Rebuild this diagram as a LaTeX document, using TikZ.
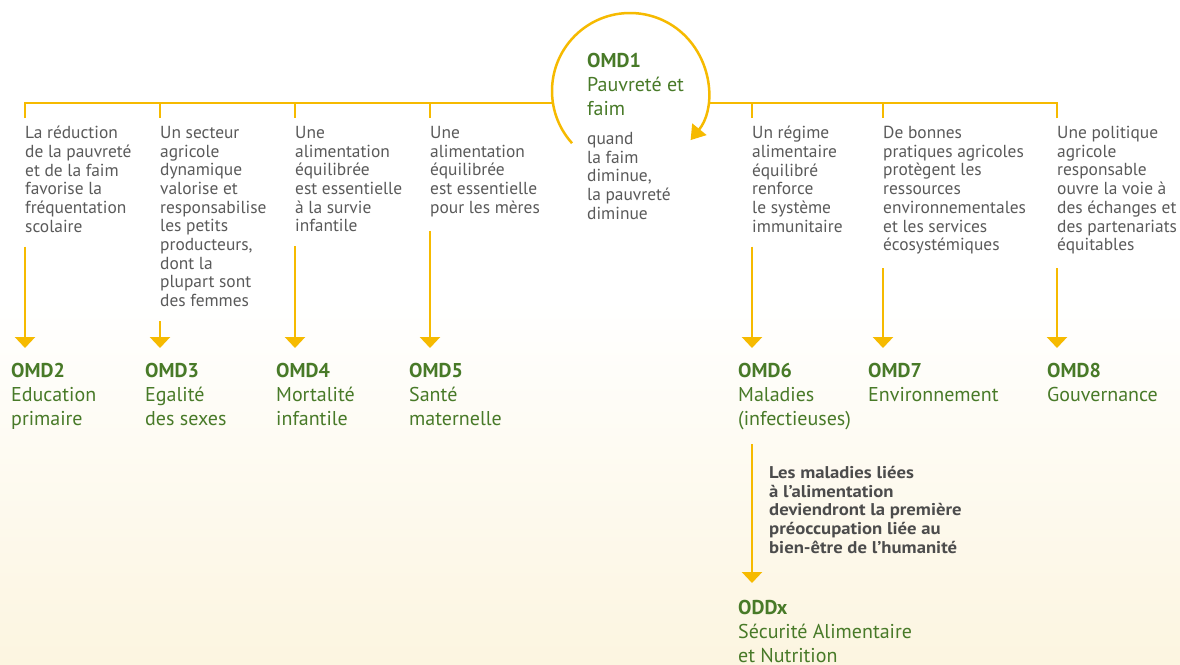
\documentclass[tikz,border=0pt]{standalone}
\usepackage{fontspec}
\setmainfont{PT Sans}
\newfontfamily\notefont{PT Sans}[FakeStretch=1.1]
\usetikzlibrary{arrows.meta}
\definecolor{omdgreen}{RGB}{72,122,40}
\definecolor{omdyellow}{RGB}{246,186,0}
\definecolor{omdgray}{RGB}{90,90,90}
\definecolor{omdcream}{RGB}{252,245,224}
\begin{document}
\begin{tikzpicture}[x=1pt,y=1pt,
		link text/.style = {anchor=north west, inner sep=0pt, align=left, text=omdgray, font=\fontsize{17.4}{18.7}\selectfont},
		omd label/.style = {anchor=north west, inner sep=0pt, align=left, text=omdgreen, font=\fontsize{20}{24}\selectfont},
		bar/.style = {draw=omdyellow, line width=2.5pt},
		goal arrow/.style = {bar, -{Triangle[width=20pt,length=11pt]}, shorten >=15pt}]
		
		\useasboundingbox (0,0) rectangle (1180,-664);
		\fill[white] (0,0) rectangle (1180,-300);
		\shade[top color=white, bottom color=omdcream] (0,-300) rectangle (1180,-664);
		
		% OMD1 au centre
		\node[circle, minimum size=156pt, inner sep=0pt, outer sep=0pt] (ring) at (630,-91) {};
		\node[omd label] (l1) at (587,-53) {\textbf{OMD1}\\Pauvreté et\\faim};
		\node[link text] (t1) at (587,-132) {quand\\la faim\\diminue,\\la pauvreté\\diminue};
		\draw[bar, -{Triangle[width=18pt,length=14pt]}] (ring.222) arc[start angle=222, end angle=-39, radius=78];
		
		% barre horizontale
		\coordinate (b2) at (25,-103);
		\coordinate (b3) at (160,-103);
		\coordinate (b4) at (295,-103);
		\coordinate (b5) at (430,-103);
		\coordinate (b6) at (752,-103);
		\coordinate (b7) at (883,-103);
		\coordinate (b8) at (1057,-103);
		\draw[bar] ([yshift=-15pt]b2) -- (b2) -- (b2 -| ring.west);
		\draw[bar] ([yshift=-15pt]b8) -- (b8) -- (b8 -| ring.east);
		\draw[bar] (b3) -- ++(0,-15);
		\draw[bar] (b4) -- ++(0,-15);
		\draw[bar] (b5) -- ++(0,-15);
		\draw[bar] (b6) -- ++(0,-15);
		\draw[bar] (b7) -- ++(0,-15);
		
		% liens
		\node[link text] (t2) at (25,-126) {La réduction\\de la pauvreté\\et de la faim\\favorise la\\fréquentation\\scolaire};
		\node[link text] (t3) at (160,-126) {Un secteur\\agricole\\dynamique\\valorise et\\responsabilise\\les petits\\producteurs,\\dont la\\plupart sont\\des femmes};
		\node[link text] (t4) at (295,-126) {Une\\alimentation\\équilibrée\\est essentielle\\à la survie\\infantile};
		\node[link text] (t5) at (430,-126) {Une\\alimentation\\équilibrée\\est essentielle\\pour les mères};
		\node[link text] (t6) at (752,-126) {Un régime\\alimentaire\\équilibré\\renforce\\le système\\immunitaire};
		\node[link text] (t7) at (883,-126) {De bonnes\\pratiques agricoles\\protègent les\\ressources\\environnementales\\et les services\\écosystémiques};
		\node[link text] (t8) at (1057,-126) {Une politique\\agricole\\responsable\\ouvre la voie à\\des échanges et\\des partenariats\\équitables};
		
		% objectifs
		\node[omd label] (l2) at (11,-363) {\textbf{OMD2}\\Education\\primaire};
		\node[omd label] (l3) at (145,-363) {\textbf{OMD3}\\Egalité\\des sexes};
		\node[omd label] (l4) at (276,-363) {\textbf{OMD4}\\Mortalité\\infantile};
		\node[omd label] (l5) at (409,-363) {\textbf{OMD5}\\Santé\\maternelle};
		\node[omd label] (l6) at (738,-363) {\textbf{OMD6}\\Maladies\\(infectieuses)};
		\node[omd label] (l7) at (868,-363) {\textbf{OMD7}\\Environnement};
		\node[omd label] (l8) at (1047,-363) {\textbf{OMD8}\\Gouvernance};
		\node[omd label] (lx) at (738,-600) {\textbf{ODDx}\\Sécurité Alimentaire\\et Nutrition};
		\node[link text, font=\notefont\bfseries\fontsize{17}{18.7}\selectfont, text=omdgray!85!black] (note) at (769,-466) {Les maladies liées\\à l’alimentation\\deviendront la première\\préoccupation liée au\\bien-être de l’humanité};
		
		\draw[goal arrow] ([yshift=-14pt]t2.south west) -- (t2.west |- l2.north);
		\draw[goal arrow] ([yshift=-14pt]t3.south west) -- (t3.west |- l3.north);
		\draw[goal arrow] ([yshift=-14pt]t4.south west) -- (t4.west |- l4.north);
		\draw[goal arrow] ([yshift=-14pt]t5.south west) -- (t5.west |- l5.north);
		\draw[goal arrow] ([yshift=-14pt]t6.south west) -- (t6.west |- l6.north);
		\draw[goal arrow] ([yshift=-14pt]t7.south west) -- (t7.west |- l7.north);
		\draw[goal arrow] ([yshift=-14pt]t8.south west) -- (t8.west |- l8.north);
		\draw[goal arrow, shorten >=17pt] ([yshift=-14pt]l6.south -| t6.west) -- (t6.west |- lx.north);
		\end{tikzpicture}
\end{document}
